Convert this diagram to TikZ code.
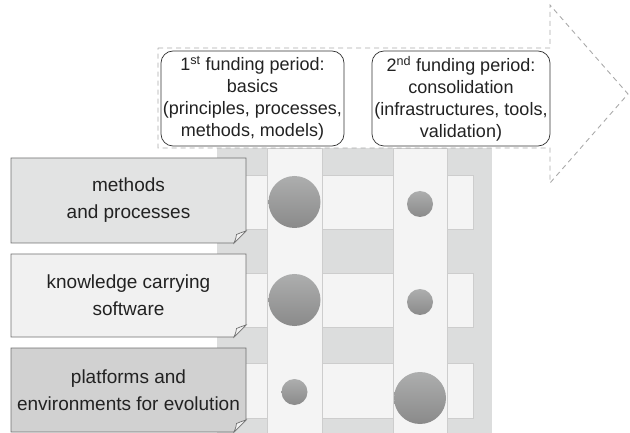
\documentclass[tikz,border=0pt]{standalone}
\usepackage{fontspec}
\setmainfont{Liberation Sans}
\usetikzlibrary{calc}
\definecolor{bggrey}{HTML}{DCDDDD}
\definecolor{strip}{HTML}{F4F4F4}
\definecolor{stripedge}{HTML}{CDCDCD}
\definecolor{edge}{HTML}{707070}
\definecolor{labA}{HTML}{E2E3E3}
\definecolor{labB}{HTML}{F1F1F1}
\definecolor{labC}{HTML}{D1D1D1}
\definecolor{txt}{HTML}{222222}
\definecolor{dashc}{HTML}{AAAAAA}
\definecolor{balltop}{HTML}{ADAEAE}
\definecolor{ballbot}{HTML}{8A8A8A}
\tikzset{
  stripbox/.style={fill=strip, draw=stripedge, line width=0.8pt},
  ball/.style={circle, inner sep=0pt, top color=balltop, bottom color=ballbot, draw=none},
  fundbox/.style={draw=black!80, rounded corners=12pt, line width=0.7pt, fill=white, inner sep=0pt,
    align=center, text=txt, font=\fontsize{18}{22}\selectfont},
  labtext/.style={align=center, text=txt, font=\fontsize{19}{27}\selectfont, inner sep=0pt},
  labshape/.style={draw=edge, line width=0.9pt},
  flap/.style={draw=edge, fill=white!90!gray, line width=0.7pt},
  arrowline/.style={draw=dashc, dash pattern=on 5pt off 4pt, line width=0.9pt}
}
\newcommand{\labelbox}[5]{%
  \coordinate (#1nw) at #2;
  \coordinate (#1se) at #3;
  \path[labshape, fill=#4] (#1nw) -- (#1nw -| #1se) -- ([yshift=12pt]#1se) -- ([xshift=-12pt]#1se) -- (#1se -| #1nw) -- cycle;
  \path[flap] ([yshift=12pt]#1se) .. controls ([xshift=-6pt,yshift=10pt]#1se) .. ([xshift=-9.5pt,yshift=8.5pt]#1se)
     .. controls ([xshift=-10pt,yshift=5pt]#1se) .. ([xshift=-12pt]#1se) -- cycle;
  \node[labtext] (#1) at ($(#1nw)!0.5!(#1se)$) {#5};
}
\begin{document}
\begin{tikzpicture}[x=1pt, y=-1pt]
\useasboundingbox (0,0) rectangle (630,433);
% background block
\fill[bggrey] (217,148) rectangle (492,433);
% row strips
\path[stripbox] (217,175) rectangle (473,229);
\path[stripbox] (217,273) rectangle (473,327);
\path[stripbox] (217,363) rectangle (473,418);
% columns
\path[stripbox] (267,148) rectangle (322,434);
\path[stripbox] (393,148) rectangle (447,434);
% circles
\node[ball, minimum size=52pt] (b11) at (294.5,202) {};
\node[ball, minimum size=26pt] (b12) at (420,204) {};
\node[ball, minimum size=52pt] (b21) at (294.5,300) {};
\node[ball, minimum size=26pt] (b22) at (420,302) {};
\node[ball, minimum size=26pt] (b31) at (294.5,392) {};
\node[ball, minimum size=52pt] (b32) at (420,398) {};
% dashed arrow
\coordinate (a1) at (158,48);
\coordinate (a2) at (550,48);
\coordinate (a3) at (550,5);
\coordinate (a4) at (628,94);
\coordinate (a5) at (550,183);
\coordinate (a6) at (550,148);
\coordinate (a7) at (158,148);
\path[arrowline] (a1) -- (a2) -- (a3) -- (a4) -- (a5) -- (a6) -- (a7) -- cycle;
% funding boxes
\node[fundbox, minimum width=183pt, minimum height=95pt] (f1) at (252.5,98.5)
  {1\textsuperscript{st} funding period:\\basics\\(principles, processes,\\methods, models)};
\node[fundbox, minimum width=178pt, minimum height=95pt] (f2) at (461,98.5)
  {2\textsuperscript{nd} funding period:\\consolidation\\(infrastructures, tools,\\validation)};
% label boxes
\labelbox{l1}{(11,158)}{(246,243)}{labA}{methods\\and processes}
\labelbox{l2}{(11,254)}{(246,337)}{labB}{knowledge carrying\\software}
\labelbox{l3}{(11,348)}{(246,432)}{labC}{platforms and\\environments for evolution}
\end{tikzpicture}
\end{document}
